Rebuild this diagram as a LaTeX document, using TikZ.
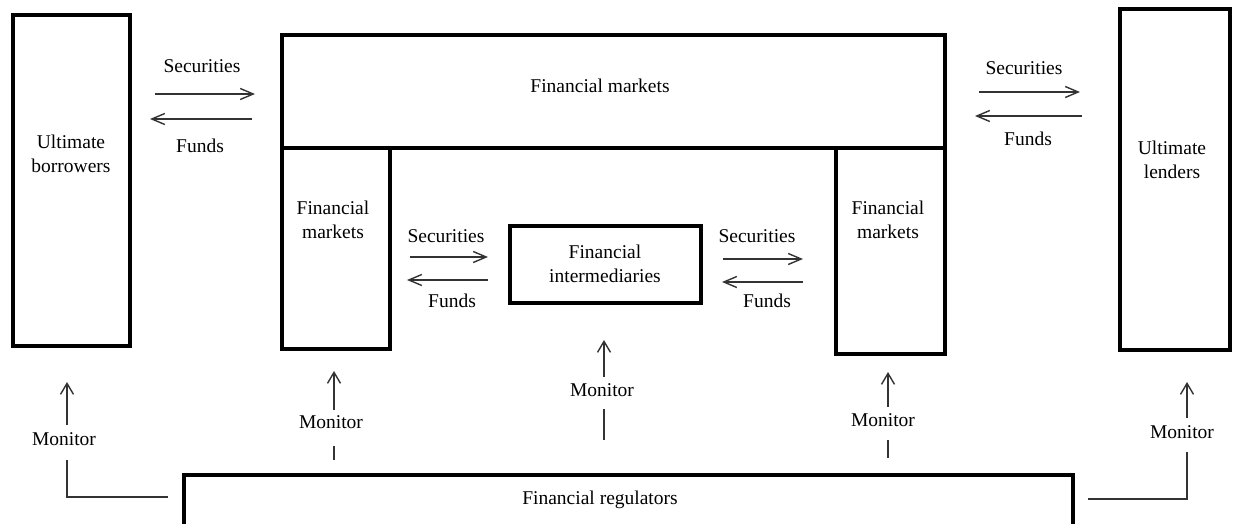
\documentclass[tikz,border=0pt]{standalone}
\usepackage{fontspec}
\setmainfont{Liberation Serif}
\usetikzlibrary{arrows.meta}
\begin{document}
\begin{tikzpicture}[x=1pt,y=-1pt,
  box/.style={draw,line width=4pt,inner sep=0pt,outer sep=0pt,rectangle,line join=miter},
  lbl/.style={font=\fontsize{19.5}{24}\selectfont,inner sep=0pt,anchor=base},
  txt/.style={font=\fontsize{19.5}{24}\selectfont,inner sep=0pt,align=center},
  flow/.style={line width=1.4pt,draw=black!80,-{Straight Barb[length=13pt,width=11pt,line width=1.4pt]}},
  mon/.style={line width=1.4pt,draw=black!80,-{Straight Barb[length=11pt,width=13pt,line width=1.4pt]}},
  mline/.style={line width=1.3pt,draw=black!80},
]
\useasboundingbox (0,0) rectangle (1233,524);

% boxes
\node[box,minimum width=117pt,minimum height=331pt] (ub) at (71.5,180.5) {};
\node[box,minimum width=110pt,minimum height=341pt] (ul) at (1175,179.5) {};
\node[box,minimum width=663pt,minimum height=113pt] (fmtop) at (613.5,91.5) {};
\node[box,minimum width=108pt,minimum height=201pt] (fml) at (336,248.5) {};
\node[box,minimum width=109pt,minimum height=206pt] (fmr) at (890.5,251) {};
\node[box,minimum width=191pt,minimum height=77pt] (fi) at (605.5,264.5) {};
\node[box,minimum width=889pt,minimum height=51pt] (reg) at (628.5,500.5) {};

% box texts
\node[txt] (ubt) at (71,153.4) {Ultimate\\borrowers};
\node[txt] (ult) at (1172,160.3) {Ultimate\\lenders};
\node[lbl] (fmtopt) at (600,93) {Financial markets};
\node[txt] (fmlt) at (333,219.4) {Financial\\markets};
\node[txt] (fmrt) at (888,219.4) {Financial\\markets};
\node[txt] (fit) at (605,263.4) {Financial\\intermediaries};
\node[lbl] (regt) at (600,504) {Financial regulators};

% flow labels
\node[lbl] (s1) at (202,73) {Securities};
\node[lbl] (f1) at (200,152) {Funds};
\node[lbl] (s2) at (1024,75) {Securities};
\node[lbl] (f2) at (1028,145) {Funds};
\node[lbl] (s3) at (446,242) {Securities};
\node[lbl] (f3) at (452,307) {Funds};
\node[lbl] (s4) at (757,242) {Securities};
\node[lbl] (f4) at (767,307) {Funds};

% flow arrows
\coordinate (a1s) at (155,94);  \coordinate (a1e) at (255,94);
\coordinate (b1s) at (252,119); \coordinate (b1e) at (150,119);
\coordinate (a2s) at (979,92);  \coordinate (a2e) at (1080,92);
\coordinate (b2s) at (1082,116);\coordinate (b2e) at (975,116);
\coordinate (a3s) at (410,257); \coordinate (a3e) at (488,257);
\coordinate (b3s) at (488,280); \coordinate (b3e) at (407,280);
\coordinate (a4s) at (723,259); \coordinate (a4e) at (803,259);
\coordinate (b4s) at (803,282); \coordinate (b4e) at (722,282);
\draw[flow] (a1s) -- (a1e);
\draw[flow] (b1s) -- (b1e);
\draw[flow] (a2s) -- (a2e);
\draw[flow] (b2s) -- (b2e);
\draw[flow] (a3s) -- (a3e);
\draw[flow] (b3s) -- (b3e);
\draw[flow] (a4s) -- (a4e);
\draw[flow] (b4s) -- (b4e);

% monitor labels
\node[lbl] (m1) at (64,445) {Monitor};
\node[lbl] (m2) at (331,428) {Monitor};
\node[lbl] (m3) at (602,396) {Monitor};
\node[lbl] (m4) at (883,426) {Monitor};
\node[lbl] (m5) at (1182,438) {Monitor};

% monitor connectors
\coordinate (r1) at (168,497); \coordinate (c1) at (67,497); \coordinate (l1) at (67,460);
\coordinate (u1) at (67,425); \coordinate (t1) at (67,382);
\draw[mline] (r1) -- (c1) -- (l1);
\draw[mon] (u1) -- (t1);

\coordinate (l2) at (334,460); \coordinate (d2) at (334,446);
\coordinate (u2) at (334,410); \coordinate (t2) at (334,371);
\draw[mline] (l2) -- (d2);
\draw[mon] (u2) -- (t2);

\coordinate (l3) at (604,440); \coordinate (d3) at (604,409);
\coordinate (u3) at (604,377); \coordinate (t3) at (604,340);
\draw[mline] (l3) -- (d3);
\draw[mon] (u3) -- (t3);

\coordinate (l4) at (888,458); \coordinate (d4) at (888,440);
\coordinate (u4) at (888,407); \coordinate (t4) at (888,372);
\draw[mline] (l4) -- (d4);
\draw[mon] (u4) -- (t4);

\coordinate (r5) at (1088,499); \coordinate (c5) at (1187,499); \coordinate (l5) at (1187,452);
\coordinate (u5) at (1187,418); \coordinate (t5) at (1187,382);
\draw[mline] (r5) -- (c5) -- (l5);
\draw[mon] (u5) -- (t5);
\end{tikzpicture}
\end{document}
